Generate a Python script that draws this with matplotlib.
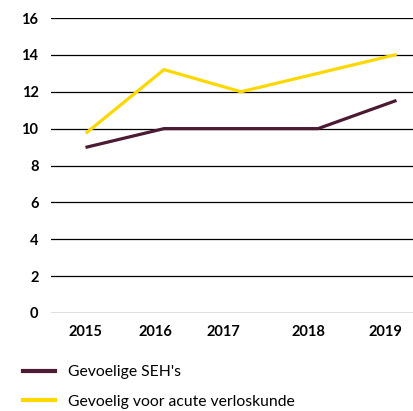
import matplotlib.pyplot as plt
import matplotlib.transforms as mtransforms

years = ["2015", "2016", "2017", "2018", "2019"]
seh = [9, 10, 10, 10, 11.5]
verloskunde = [9.8, 13.2, 12, 13, 14]
series_names = ["Gevoelige SEH's", "Gevoelig voor acute verloskunde"]
yticks = [0, 2, 4, 6, 8, 10, 12, 14, 16]
# label shift in px, the source chart has the year labels a bit off their points
label_shift = [-2, -9, -18, -10, -10]

plt.rcParams['font.family'] = ['Lato', 'DejaVu Sans']

fig = plt.figure(figsize=(4.13, 4.11), dpi=100)
ax = fig.add_axes([51 / 413, 1 - 313 / 411, 362 / 413, 295 / 411])

x = list(range(len(years)))
ax.plot(x, seh, color="#4b1b33", lw=2.3, label=series_names[0], solid_joinstyle="miter")
ax.plot(x, verloskunde, color="#fdd800", lw=2.3, label=series_names[1], solid_joinstyle="miter")

ax.set_xlim(-0.468, 4.234)
ax.set_ylim(0, 16)
ax.set_yticks(yticks)
ax.set_xticks(x)
ax.set_xticklabels(years)
for y in yticks:
    ax.axhline(y, color="black", lw=0.9, zorder=0)
for s in ax.spines.values():
    s.set_visible(False)
ax.tick_params(length=0, labelsize=10.5)
ax.tick_params(axis="y", pad=9)
ax.tick_params(axis="x", pad=9)
for lab in ax.get_xticklabels() + ax.get_yticklabels():
    lab.set_fontweight("bold")
for lab, dx in zip(ax.get_xticklabels(), label_shift):
    lab.set_transform(lab.get_transform() + mtransforms.ScaledTranslation(dx / 100, 0, fig.dpi_scale_trans))

h, l = ax.get_legend_handles_labels()
leg = fig.legend(h, l, loc="upper left", bbox_to_anchor=(17 / 413, 1 - 359 / 411),
                 frameon=False, fontsize=11.3, handlelength=2.05, handletextpad=0.83,
                 labelspacing=1.0, borderaxespad=0)
for ln in leg.get_lines():
    ln.set_linewidth(3)

fig.savefig("out.png", dpi=100)
